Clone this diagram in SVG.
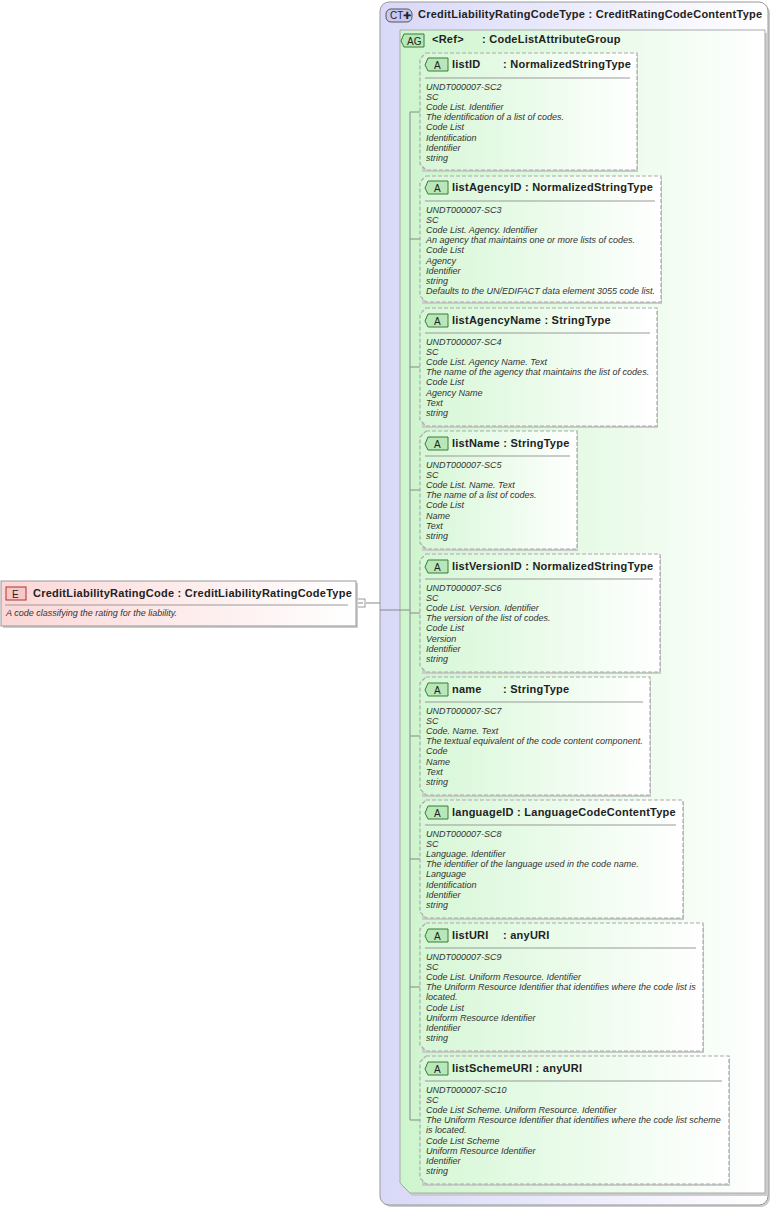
<svg xmlns="http://www.w3.org/2000/svg" width="773" height="1208" viewBox="0 0 773 1208">
<defs>
<linearGradient id="gE" x1="0" x2="1" y1="0" y2="0"><stop offset="0" stop-color="#fcd7d7"/><stop offset="1" stop-color="#ffffff"/></linearGradient>
<linearGradient id="gA" x1="0" x2="1" y1="0" y2="0"><stop offset="0" stop-color="#d6f7d6"/><stop offset="1" stop-color="#ffffff"/></linearGradient>
<linearGradient id="gAG" x1="0" x2="1" y1="0" y2="0"><stop offset="0" stop-color="#cdf5cd"/><stop offset="1" stop-color="#ffffff"/></linearGradient>
<linearGradient id="gCT" x1="0" x2="1" y1="0" y2="0"><stop offset="0" stop-color="#d8d8f8"/><stop offset="1" stop-color="#ffffff"/></linearGradient>
</defs>
<style>
text{font-family:"Liberation Sans",Arial,sans-serif;fill:#222}
.h{font-size:11px;font-weight:bold;letter-spacing:0.25px}
.d{font-size:9px;font-style:italic;fill:#333}
.att{fill:url(#gA);stroke:#aaa;stroke-dasharray:4,2;stroke-width:1.2}
.sh{fill:#ccc}
.sep{stroke:#999;stroke-width:1}
.badge{fill:#b8e8b8;stroke:#3a7a3a}
.bt{font-size:10px;fill:#222}
.ln{stroke:#888;fill:none}
</style>
<g id="ct">
<rect x="382" y="4" width="388" height="1203" rx="9" fill="#ccc"/>
<rect x="380" y="2" width="388" height="1203" rx="9" fill="url(#gCT)" stroke="#999"/>
<rect x="386" y="9" width="26" height="13" rx="5" fill="#c8c8f0" stroke="#555"/>
<text x="390" y="19" class="bt">CT✚</text>
<text x="418" y="18" class="h">CreditLiabilityRatingCodeType : CreditRatingCodeContentType</text>
</g>
<g id="ag">
<path d="M402 33 L768 33 L768 1196 L412 1196 L402 1186 Z" class="sh"/>
<path d="M400 30 L410 30 L765 30 L765 1193 L410 1193 L400 1183 Z" fill="url(#gAG)" stroke="#aaa"/>
<path d="M404 34 h20 v13 h-20 l-3 -6 z" fill="#b8e8b8" stroke="#3a7a3a"/>
<text x="407" y="45" class="bt">AG</text>
<text x="432" y="43" class="h">&lt;Ref&gt;</text>
<text x="482" y="43" class="h">: CodeListAttributeGroup</text>
</g>
<g id="conn" class="ln">
<line x1="366" y1="603" x2="380" y2="603"/>
<line x1="380" y1="610" x2="410" y2="610"/>
<line x1="410" y1="112" x2="410" y2="1120"/>
<line x1="410" y1="112" x2="420" y2="112"/>
<line x1="410" y1="239" x2="420" y2="239"/>
<line x1="410" y1="367" x2="420" y2="367"/>
<line x1="410" y1="490" x2="420" y2="490"/>
<line x1="410" y1="613" x2="420" y2="613"/>
<line x1="410" y1="736" x2="420" y2="736"/>
<line x1="410" y1="859" x2="420" y2="859"/>
<line x1="410" y1="987" x2="420" y2="987"/>
<line x1="410" y1="1120" x2="420" y2="1120"/>
<rect x="356" y="599" width="9" height="8" fill="#fff" stroke="#999"/>
<line x1="358" y1="603" x2="363" y2="603"/>
</g>
<g id="el">
<rect x="3" y="583" width="355" height="45" fill="#ccc"/>
<rect x="1" y="581" width="355" height="45" fill="url(#gE)" stroke="#999"/>
<rect x="6" y="587" width="20" height="13" fill="#f8c8c8" stroke="#a33"/>
<text x="12" y="598" class="bt">E</text>
<text x="33" y="597" class="h">CreditLiabilityRatingCode : CreditLiabilityRatingCodeType</text>
<line x1="5" y1="605" x2="348" y2="605" class="sep"/>
<text x="6" y="616" class="d">A code classifying the rating for the liability.</text>
</g>
<g id="a1">
<path d="M422 55 h216 v117 h-216 z" class="sh"/>
<path d="M426 53 h211 v117 h-211 l-6 -6 v-105 z" class="att"/>
<path d="M428 58 h20 v13 h-20 l-3 -6 z" class="badge"/><text x="434" y="69" class="bt">A</text>
<text x="452" y="68" class="h">listID</text><text x="503" y="68" class="h">: NormalizedStringType</text>
<line x1="425" y1="78" x2="630" y2="78" class="sep"/>
<text class="d"><tspan x="426" y="90">UNDT000007-SC2</tspan><tspan x="426" dy="10.1">SC</tspan><tspan x="426" dy="10.1">Code List. Identifier</tspan><tspan x="426" dy="10.1">The identification of a list of codes.</tspan><tspan x="426" dy="10.1">Code List</tspan><tspan x="426" dy="10.1">Identification</tspan><tspan x="426" dy="10.1">Identifier</tspan><tspan x="426" dy="10.1">string</tspan></text>
</g>
<g id="a2">
<path d="M422 178 h240 v126 h-240 z" class="sh"/>
<path d="M426 176 h235 v126 h-235 l-6 -6 v-114 z" class="att"/>
<path d="M428 181 h20 v13 h-20 l-3 -6 z" class="badge"/><text x="434" y="192" class="bt">A</text>
<text x="452" y="191" class="h">listAgencyID : NormalizedStringType</text>
<line x1="425" y1="201" x2="655" y2="201" class="sep"/>
<text class="d"><tspan x="426" y="213">UNDT000007-SC3</tspan><tspan x="426" dy="10.1">SC</tspan><tspan x="426" dy="10.1">Code List. Agency. Identifier</tspan><tspan x="426" dy="10.1">An agency that maintains one or more lists of codes.</tspan><tspan x="426" dy="10.1">Code List</tspan><tspan x="426" dy="10.1">Agency</tspan><tspan x="426" dy="10.1">Identifier</tspan><tspan x="426" dy="10.1">string</tspan><tspan x="426" dy="10.1">Defaults to the UN/EDIFACT data element 3055 code list.</tspan></text>
</g>
<g id="a3">
<path d="M422 310 h236 v118 h-236 z" class="sh"/>
<path d="M426 308 h231 v118 h-231 l-6 -6 v-106 z" class="att"/>
<path d="M428 314 h20 v13 h-20 l-3 -6 z" class="badge"/><text x="434" y="325" class="bt">A</text>
<text x="452" y="324" class="h">listAgencyName : StringType</text>
<line x1="425" y1="333" x2="650" y2="333" class="sep"/>
<text class="d"><tspan x="426" y="345">UNDT000007-SC4</tspan><tspan x="426" dy="10.1">SC</tspan><tspan x="426" dy="10.1">Code List. Agency Name. Text</tspan><tspan x="426" dy="10.1">The name of the agency that maintains the list of codes.</tspan><tspan x="426" dy="10.1">Code List</tspan><tspan x="426" dy="10.1">Agency Name</tspan><tspan x="426" dy="10.1">Text</tspan><tspan x="426" dy="10.1">string</tspan></text>
</g>
<g id="a4">
<path d="M422 433 h156 v118 h-156 z" class="sh"/>
<path d="M426 431 h151 v118 h-151 l-6 -6 v-106 z" class="att"/>
<path d="M428 437 h20 v13 h-20 l-3 -6 z" class="badge"/><text x="434" y="448" class="bt">A</text>
<text x="452" y="447" class="h">listName : StringType</text>
<line x1="425" y1="456" x2="570" y2="456" class="sep"/>
<text class="d"><tspan x="426" y="468">UNDT000007-SC5</tspan><tspan x="426" dy="10.1">SC</tspan><tspan x="426" dy="10.1">Code List. Name. Text</tspan><tspan x="426" dy="10.1">The name of a list of codes.</tspan><tspan x="426" dy="10.1">Code List</tspan><tspan x="426" dy="10.1">Name</tspan><tspan x="426" dy="10.1">Text</tspan><tspan x="426" dy="10.1">string</tspan></text>
</g>
<g id="a5">
<path d="M422 556 h239 v118 h-239 z" class="sh"/>
<path d="M426 554 h234 v118 h-234 l-6 -6 v-106 z" class="att"/>
<path d="M428 560 h20 v13 h-20 l-3 -6 z" class="badge"/><text x="434" y="571" class="bt">A</text>
<text x="452" y="570" class="h">listVersionID : NormalizedStringType</text>
<line x1="425" y1="579" x2="653" y2="579" class="sep"/>
<text class="d"><tspan x="426" y="591">UNDT000007-SC6</tspan><tspan x="426" dy="10.1">SC</tspan><tspan x="426" dy="10.1">Code List. Version. Identifier</tspan><tspan x="426" dy="10.1">The version of the list of codes.</tspan><tspan x="426" dy="10.1">Code List</tspan><tspan x="426" dy="10.1">Version</tspan><tspan x="426" dy="10.1">Identifier</tspan><tspan x="426" dy="10.1">string</tspan></text>
</g>
<g id="a6">
<path d="M422 679 h229 v118 h-229 z" class="sh"/>
<path d="M426 677 h224 v118 h-224 l-6 -6 v-106 z" class="att"/>
<path d="M428 683 h20 v13 h-20 l-3 -6 z" class="badge"/><text x="434" y="694" class="bt">A</text>
<text x="452" y="693" class="h">name</text><text x="503" y="693" class="h">: StringType</text>
<line x1="425" y1="702" x2="643" y2="702" class="sep"/>
<text class="d"><tspan x="426" y="714">UNDT000007-SC7</tspan><tspan x="426" dy="10.1">SC</tspan><tspan x="426" dy="10.1">Code. Name. Text</tspan><tspan x="426" dy="10.1">The textual equivalent of the code content component.</tspan><tspan x="426" dy="10.1">Code</tspan><tspan x="426" dy="10.1">Name</tspan><tspan x="426" dy="10.1">Text</tspan><tspan x="426" dy="10.1">string</tspan></text>
</g>
<g id="a7">
<path d="M422 802 h262 v118 h-262 z" class="sh"/>
<path d="M426 800 h257 v118 h-257 l-6 -6 v-106 z" class="att"/>
<path d="M428 806 h20 v13 h-20 l-3 -6 z" class="badge"/><text x="434" y="817" class="bt">A</text>
<text x="452" y="816" class="h">languageID : LanguageCodeContentType</text>
<line x1="425" y1="825" x2="676" y2="825" class="sep"/>
<text class="d"><tspan x="426" y="837">UNDT000007-SC8</tspan><tspan x="426" dy="10.1">SC</tspan><tspan x="426" dy="10.1">Language. Identifier</tspan><tspan x="426" dy="10.1">The identifier of the language used in the code name.</tspan><tspan x="426" dy="10.1">Language</tspan><tspan x="426" dy="10.1">Identification</tspan><tspan x="426" dy="10.1">Identifier</tspan><tspan x="426" dy="10.1">string</tspan></text>
</g>
<g id="a8">
<path d="M422 925 h282 v128 h-282 z" class="sh"/>
<path d="M426 923 h277 v128 h-277 l-6 -6 v-116 z" class="att"/>
<path d="M428 929 h20 v13 h-20 l-3 -6 z" class="badge"/><text x="434" y="940" class="bt">A</text>
<text x="452" y="939" class="h">listURI</text><text x="503" y="939" class="h">: anyURI</text>
<line x1="425" y1="948" x2="696" y2="948" class="sep"/>
<text class="d"><tspan x="426" y="960">UNDT000007-SC9</tspan><tspan x="426" dy="10.1">SC</tspan><tspan x="426" dy="10.1">Code List. Uniform Resource. Identifier</tspan><tspan x="426" dy="10.1">The Uniform Resource Identifier that identifies where the code list is</tspan><tspan x="426" dy="10.1">located.</tspan><tspan x="426" dy="10.1">Code List</tspan><tspan x="426" dy="10.1">Uniform Resource Identifier</tspan><tspan x="426" dy="10.1">Identifier</tspan><tspan x="426" dy="10.1">string</tspan></text>
</g>
<g id="a9">
<path d="M422 1058 h308 v128 h-308 z" class="sh"/>
<path d="M426 1056 h303 v128 h-303 l-6 -6 v-116 z" class="att"/>
<path d="M428 1062 h20 v13 h-20 l-3 -6 z" class="badge"/><text x="434" y="1073" class="bt">A</text>
<text x="452" y="1072" class="h">listSchemeURI : anyURI</text>
<line x1="425" y1="1081" x2="722" y2="1081" class="sep"/>
<text class="d"><tspan x="426" y="1093">UNDT000007-SC10</tspan><tspan x="426" dy="10.1">SC</tspan><tspan x="426" dy="10.1">Code List Scheme. Uniform Resource. Identifier</tspan><tspan x="426" dy="10.1">The Uniform Resource Identifier that identifies where the code list scheme</tspan><tspan x="426" dy="10.1">is located.</tspan><tspan x="426" dy="10.1">Code List Scheme</tspan><tspan x="426" dy="10.1">Uniform Resource Identifier</tspan><tspan x="426" dy="10.1">Identifier</tspan><tspan x="426" dy="10.1">string</tspan></text>
</g>
</svg>
